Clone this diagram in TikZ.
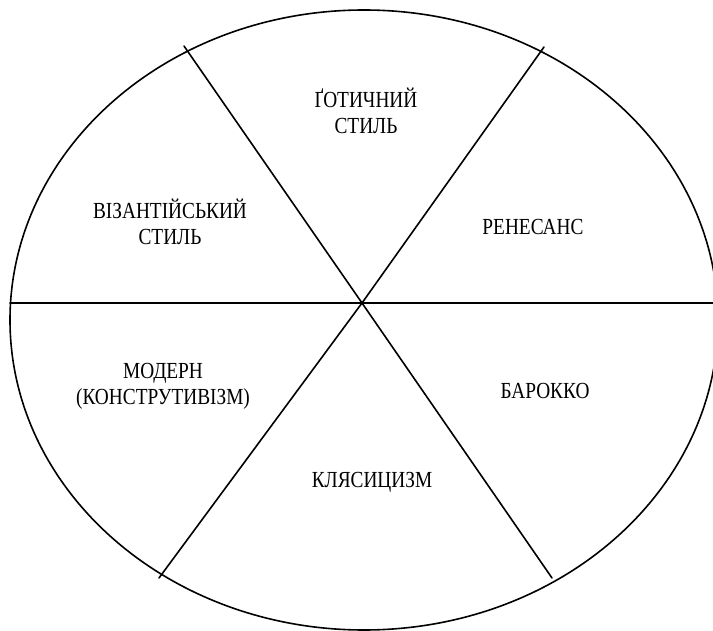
\documentclass[tikz,border=0pt]{standalone}
\usepackage{fontspec}
\setmainfont[FakeStretch=0.84]{Liberation Serif}

\tikzset{sector/.style={font=\fontsize{11.5}{13}\selectfont,align=center,inner sep=0pt}}

\begin{document}
\begin{tikzpicture}[x=0.5pt,y=-0.5pt,line cap=round,line join=round]
  \useasboundingbox (0,0) rectangle (713,631);
  \coordinate (O) at (362,303);
  \coordinate (TL) at (184,46);
  \coordinate (TR) at (544,47);
  \coordinate (BL) at (159,578);
  \coordinate (BR) at (552,578);
  \coordinate (L) at (10,303);
  \coordinate (R) at (716,303);
  \draw[line width=0.8pt] (364,320) ellipse [x radius=177pt, y radius=155pt];
  \draw[line width=0.8pt] (L) -- (O) -- (R);
  \draw[line width=0.8pt] (TL) -- (O) -- (BR);
  \draw[line width=0.8pt] (TR) -- (O) -- (BL);
  \node[sector] (gothic) at (366,111) {ҐОТИЧНИЙ\\СТИЛЬ};
  \node[sector] (byzant) at (170,222) {ВІЗАНТІЙСЬКИЙ\\СТИЛЬ};
  \node[sector] (renais) at (533,227) {РЕНЕСАНС};
  \node[sector] (modern) at (163,386) {МОДЕРН\\(КОНСТРУТИВІЗМ)};
  \node[sector] (baroque) at (545,391) {БАРОККО};
  \node[sector] (classic) at (372,482) {КЛЯСИЦИЗМ};
\end{tikzpicture}
\end{document}
